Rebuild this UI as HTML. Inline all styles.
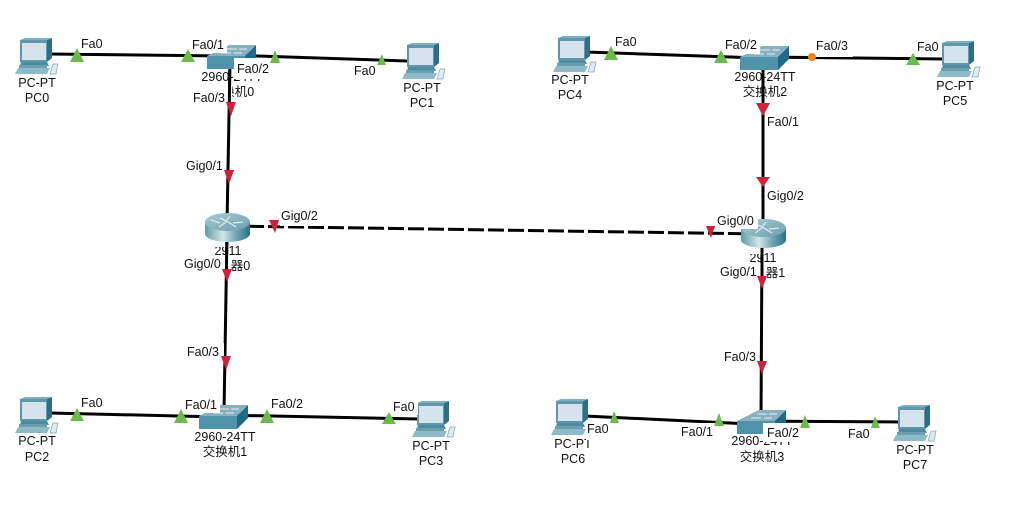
<!DOCTYPE html>
<html>
<head>
<meta charset="utf-8">
<style>
html,body{margin:0;padding:0;background:#fff;width:1015px;height:510px;overflow:hidden}
svg{display:block}
text{font-family:"Liberation Sans","Noto Sans CJK SC",sans-serif;font-size:12.5px;fill:#111}
.c{text-anchor:middle}
</style>
</head>
<body>
<svg width="1015" height="510" viewBox="0 0 1015 510" xmlns="http://www.w3.org/2000/svg">
<defs>
<linearGradient id="rside" x1="0" x2="1" y1="0" y2="0">
<stop offset="0" stop-color="#5f9aa8"/><stop offset=".4" stop-color="#d3e6ea"/><stop offset=".7" stop-color="#6fa5b2"/><stop offset="1" stop-color="#2f7086"/>
</linearGradient>
<linearGradient id="rtop" x1="0" x2="1" y1="0" y2="1">
<stop offset="0" stop-color="#a9cbd4"/><stop offset="1" stop-color="#6b9fad"/>
</linearGradient>
<g id="pc">
<polygon points="27,2 32,0 32,20 27,24" fill="#2f6f83"/>
<polygon points="0,2 5,0 32,0 27,2" fill="#7fb0bf"/>
<rect x="0" y="2" width="27" height="22" fill="#5f98ab"/>
<rect x="2" y="5" width="24" height="17" fill="#d5e4ec"/>
<polygon points="1,24 27,24 29,28 0,28" fill="#4f8b9e"/>
<polygon points="-1,27 27,27 27,30 -1,30" fill="#6a9fb0"/>
<polygon points="-2,30 30,30 27,36 -5,36" fill="#8fbac8"/>
<polygon points="33,26 38,26 36,36 30,36" fill="#dfeaee" stroke="#7fa8b6" stroke-width=".7"/>
</g>
<g id="sw">
<polygon points="0,11 22,0 49,0 38,11" fill="#86b1c0"/>
<polygon points="38,11 49,0 49,13 38,24" fill="#1f6a84"/>
<rect x="0" y="11" width="38" height="13" fill="#4f93ab"/>
<path d="M20 4h10M32 4h8M14 8h10M27 8h8" stroke="#e6f0f3" stroke-width="1" fill="none"/>
</g>
<g id="router">
<ellipse cx="22.5" cy="21" rx="22.5" ry="8" fill="url(#rside)"/>
<rect x="0" y="9" width="45" height="12" fill="url(#rside)"/>
<ellipse cx="22.5" cy="9" rx="22.5" ry="9" fill="url(#rtop)"/>
<path d="M6 7l9 3M15 5l8 4M25 3l-4 5M31 14l-8-5M38 9l-10 1M14 14l7-5" stroke="#dcebef" stroke-width="1.3" fill="none"/>
</g>
</defs>

<g stroke="#000" stroke-width="3" fill="none">
<line x1="50" y1="54" x2="225" y2="56"/>
<line x1="230" y1="55" x2="407" y2="61"/>
<line x1="230" y1="60" x2="227" y2="225"/>
<line x1="227" y1="235" x2="224" y2="412"/>
<line x1="50" y1="413" x2="220" y2="417"/>
<line x1="220" y1="415" x2="420" y2="419"/>
<line x1="586" y1="52" x2="760" y2="58"/>
<line x1="760" y1="57" x2="945" y2="59"/>
<line x1="763" y1="60" x2="763" y2="235"/>
<line x1="762" y1="240" x2="761" y2="422"/>
<line x1="585" y1="416" x2="750" y2="424"/>
<line x1="750" y1="421" x2="900" y2="422"/>
<line x1="228" y1="226" x2="762" y2="234" stroke-dasharray="16 4"/>
</g>

<use href="#pc" x="20" y="38"/>
<use href="#pc" x="407" y="43"/>
<use href="#pc" x="558" y="36"/>
<use href="#pc" x="942" y="41"/>
<use href="#pc" x="20" y="397"/>
<use href="#pc" x="417" y="401"/>
<use href="#pc" x="556" y="399"/>
<use href="#pc" x="898" y="405"/>

<use href="#sw" x="207" y="45"/>
<use href="#sw" x="740" y="46"/>
<use href="#sw" x="199" y="405"/>
<use href="#sw" x="737" y="410"/>

<use href="#router" x="205" y="213"/>
<use href="#router" x="741" y="219"/>

<g>
<text class="c" x="37" y="87">PC-PT</text><text class="c" x="37" y="102">PC0</text>
<text class="c" x="422" y="92">PC-PT</text><text class="c" x="422" y="107">PC1</text>
<text class="c" x="570" y="84">PC-PT</text><text class="c" x="570" y="99">PC4</text>
<text class="c" x="955" y="90">PC-PT</text><text class="c" x="955" y="105">PC5</text>
<text class="c" x="37" y="445">PC-PT</text><text class="c" x="37" y="461">PC2</text>
<text class="c" x="431" y="450">PC-PT</text><text class="c" x="431" y="465">PC3</text>
<text class="c" x="573" y="448">PC-PT</text><text class="c" x="573" y="463">PC6</text>
<text class="c" x="915" y="454">PC-PT</text><text class="c" x="915" y="469">PC7</text>
<text class="c" x="232" y="81">2960-24TT</text><text class="c" x="232" y="96">交换机0</text>
<text class="c" x="765" y="81">2960-24TT</text><text class="c" x="765" y="96">交换机2</text>
<text class="c" x="225" y="441">2960-24TT</text><text class="c" x="225" y="456">交换机1</text>
<text class="c" x="762" y="445">2960-24TT</text><text class="c" x="762" y="461">交换机3</text>
<text class="c" x="228" y="255">2911</text><text class="c" x="228" y="270">路由器0</text>
<text class="c" x="763" y="262">2911</text><text class="c" x="763" y="277">路由器1</text>
</g>

<g fill="#fff">
<rect x="80" y="35" width="27" height="18"/>
<rect x="191" y="36" width="36" height="17"/>
<rect x="234" y="58" width="37" height="21"/>
<rect x="192" y="84" width="40" height="22"/>
<rect x="353" y="62" width="25" height="17"/>
<rect x="185" y="157" width="41" height="17"/>
<rect x="280" y="207" width="45" height="19"/>
<rect x="183" y="255" width="48" height="17"/>
<rect x="186" y="343" width="38" height="17"/>
<rect x="80" y="394" width="26" height="17"/>
<rect x="184" y="396" width="36" height="17"/>
<rect x="270" y="395" width="37" height="18"/>
<rect x="392" y="398" width="26" height="17"/>
<rect x="614" y="33" width="26" height="17"/>
<rect x="724" y="36" width="36" height="18"/>
<rect x="815" y="37" width="38" height="20"/>
<rect x="916" y="38" width="26" height="19"/>
<rect x="766" y="113" width="36" height="17"/>
<rect x="766" y="187" width="41" height="17"/>
<rect x="716" y="212" width="42" height="17"/>
<rect x="719" y="263" width="46" height="17"/>
<rect x="723" y="348" width="36" height="17"/>
<rect x="586" y="420" width="26" height="20"/>
<rect x="680" y="423" width="38" height="17"/>
<rect x="763" y="423" width="38" height="19"/>
<rect x="847" y="425" width="26" height="17"/>
<rect x="214" y="243" width="13" height="4"/>
<rect x="749" y="250" width="13" height="4"/>
</g>

<g stroke="#000" stroke-width="3" fill="none">
<line x1="229.7" y1="70" x2="229.3" y2="106"/>
<line x1="226.7" y1="242" x2="226.5" y2="272"/>
<line x1="762" y1="248" x2="762" y2="280"/>
</g>

<g>
<text x="81" y="48">Fa0</text>
<text x="192" y="49">Fa0/1</text>
<text x="237" y="73">Fa0/2</text>
<text x="193" y="102">Fa0/3</text>
<text x="354" y="75">Fa0</text>
<text x="186" y="170">Gig0/1</text>
<text x="281" y="220">Gig0/2</text>
<text x="184" y="268">Gig0/0</text>
<text x="187" y="356">Fa0/3</text>
<text x="81" y="407">Fa0</text>
<text x="185" y="409">Fa0/1</text>
<text x="271" y="408">Fa0/2</text>
<text x="393" y="411">Fa0</text>
<text x="615" y="46">Fa0</text>
<text x="725" y="49">Fa0/2</text>
<text x="816" y="50">Fa0/3</text>
<text x="917" y="51">Fa0</text>
<text x="767" y="126">Fa0/1</text>
<text x="767" y="200">Gig0/2</text>
<text x="717" y="225">Gig0/0</text>
<text x="720" y="276">Gig0/1</text>
<text x="724" y="361">Fa0/3</text>
<text x="587" y="433">Fa0</text>
<text x="681" y="436">Fa0/1</text>
<text x="767" y="437">Fa0/2</text>
<text x="848" y="438">Fa0</text>
</g>

<g fill="#6cbb4a">
<polygon points="77,48 84,62 70,62"/>
<polygon points="188,49 195,62 181,62"/>
<polygon points="275,50 280,63 270,63"/>
<polygon points="382,54 386,65 377,65"/>
<polygon points="77,408 84,421 70,421"/>
<polygon points="181,409 188,423 174,423"/>
<polygon points="267,409 274,423 260,423"/>
<polygon points="389,412 396,424 382,424"/>
<polygon points="611,46 618,60 604,60"/>
<polygon points="721,50 728,63 714,63"/>
<polygon points="913,53 920,65 906,65"/>
<polygon points="614,411 619,423 610,423"/>
<polygon points="719,413 724,426 714,426"/>
<polygon points="805,415 810,428 800,428"/>
<polygon points="875,416 880,428 871,428"/>
</g>
<g fill="#cf2137">
<polygon points="226,102 236,102 231,116"/>
<polygon points="224,170 234,170 229,184"/>
<polygon points="222,269 232,269 227,282"/>
<polygon points="221,356 231,356 226,370"/>
<polygon points="269,220 279,220 275,233"/>
<polygon points="706,226 715,226 711,238"/>
<polygon points="756,103 770,103 763,116"/>
<polygon points="756,177 770,177 763,187"/>
<polygon points="757,276 767,276 762,289"/>
<polygon points="757,361 767,361 762,374"/>
</g>
<circle cx="812" cy="57" r="4" fill="#f08020"/>
</svg>
</body>
</html>
